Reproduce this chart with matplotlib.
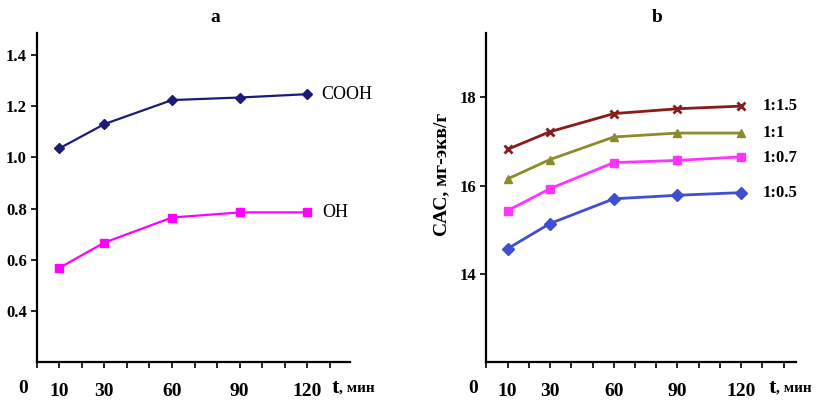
import matplotlib
matplotlib.use("Agg")
import matplotlib.pyplot as plt
from matplotlib.ticker import FixedLocator, MultipleLocator

plt.rcParams['font.family'] = ['Liberation Serif', 'DejaVu Serif']
plt.rcParams['font.weight'] = 'bold'

# time points, minutes
t_min = [10, 30, 60, 90, 120]

# panel a
cooh = [1.035, 1.13, 1.224, 1.234, 1.247]
oh = [0.568, 0.667, 0.765, 0.785, 0.785]

# panel b, CAC mg-eq/g by ratio
ratio_labels = ['1:1.5', '1:1', '1:0.7', '1:0.5']
cac_15 = [16.82, 17.22, 17.63, 17.74, 17.80]
cac_10 = [16.15, 16.59, 17.10, 17.19, 17.19]
cac_07 = [15.43, 15.93, 16.52, 16.57, 16.65]
cac_05 = [14.57, 15.14, 15.70, 15.78, 15.84]


def style_axis(ax, xmax, t_pos):
        for s in ['top', 'right']:
                ax.spines[s].set_visible(False)
        for s in ['left', 'bottom']:
                ax.spines[s].set_linewidth(1.6)
        ax.set_xlim(0, xmax)
        ax.xaxis.set_major_locator(FixedLocator(t_min))
        ax.xaxis.set_minor_locator(MultipleLocator(10))
        ax.tick_params(axis='x', which='both', length=4, width=1.2, direction='out')
        ax.tick_params(axis='x', which='major', labelsize=14, pad=11)
        ax.tick_params(axis='y', length=4, width=1.2, labelsize=12, pad=3)
        for lab in ax.get_xticklabels() + ax.get_yticklabels():
                lab.set_fontweight('bold')
        tr = ax.get_xaxis_transform()
        ax.text(-6, -0.079, '0', transform=tr, ha='center', va='center',
                fontsize=14, fontweight='bold', clip_on=False)
        # axis name: large "t", smaller units
        ax.text(t_pos, -0.079, 't', transform=tr, ha='left', va='center',
                fontsize=16, fontweight='bold', clip_on=False)
        ax.text(t_pos + 3.2, -0.079, ', мин', transform=tr, ha='left', va='center',
                fontsize=11, fontweight='bold', clip_on=False)


fig = plt.figure(figsize=(8.16, 4.01), dpi=100)

# ---- a
ax1 = fig.add_axes([0.045, 0.097, 0.384, 0.82])
ax1.plot(t_min, cooh, color='#1c1c78', marker='D', markersize=5, linewidth=1.6)
ax1.plot(t_min, oh, color='#ff00ff', marker='s', markersize=6, linewidth=1.6)
ax1.set_ylim(0.2, 1.485)
ax1.set_yticks([0.4, 0.6, 0.8, 1.0, 1.2, 1.4])
ax1.set_yticklabels(['0.4', '0.6', '0.8', '1.0', '1.2', '1.4'])
style_axis(ax1, 139, 131)
ax1.text(126, cooh[-1], 'COOH', fontsize=13, va='center', ha='left', fontweight='normal')
ax1.text(126.5, oh[-1], 'OH', fontsize=13, va='center', ha='left', fontweight='normal')
ax1.set_title('a', fontsize=14, fontweight='bold', pad=8, x=0.57)

# ---- b
ax2 = fig.add_axes([0.596, 0.097, 0.38, 0.82])
series_b = [cac_15, cac_10, cac_07, cac_05]
colors_b = ['#8b1a1a', '#8c8c2a', '#ff33ff', '#3f4fd0']
markers_b = ['x', '^', 's', 'D']
for vals, c, m in zip(series_b, colors_b, markers_b):
        ax2.plot(t_min, vals, color=c, marker=m, markersize=6, markeredgewidth=2 if m == 'x' else 1,
                 linewidth=2)
ax2.set_ylim(12, 19.45)
ax2.set_yticks([14, 16, 18])
style_axis(ax2, 146, 133)
label_y = [17.80, 17.19, 16.62, 15.84]
for lab, y in zip(ratio_labels, label_y):
        ax2.text(130, y, lab, fontsize=12, va='center', ha='left', fontweight='bold')
ax2.set_title('b', fontsize=14, fontweight='bold', pad=8, x=0.55)
ax2.text(-0.145, 0.57, 'САС, мг-экв/г', transform=ax2.transAxes, rotation=90,
         fontsize=14, fontweight='bold', ha='center', va='center')

plt.savefig('out.png', dpi=100)
plt.close(fig)
